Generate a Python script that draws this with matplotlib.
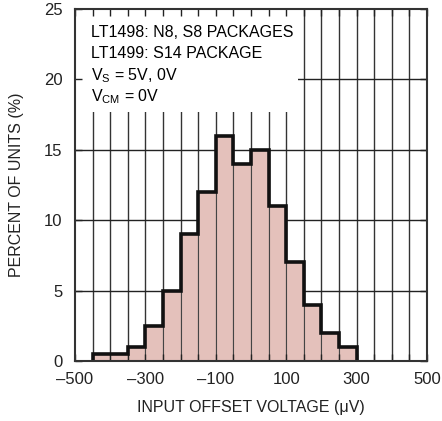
import matplotlib
matplotlib.use("Agg")
import matplotlib.pyplot as plt
import numpy as np
from matplotlib.patches import Rectangle

plt.rcParams['font.family'] = ['Liberation Sans', 'DejaVu Sans']

bin_edges = [-450, -400, -350, -300, -250, -200, -150, -100, -50, 0, 50, 100, 150, 200, 250, 300]
percent = [0.5, 0.5, 1, 2.5, 5, 9, 12, 16, 14, 15, 11, 7, 4, 2, 1]
x_ticks = [-500, -300, -100, 100, 300, 500]
x_tick_labels = ['\u2013500', '\u2013300', '\u2013100', '100', '300', '500']
y_ticks = [0, 5, 10, 15, 20, 25]

W, H = 442, 421
fig = plt.figure(figsize=(W / 100, H / 100), dpi=100)
ax = fig.add_axes([75 / W, 1 - 361 / H, 352 / W, 352 / H])
ax.set_xlim(-500, 500)
ax.set_ylim(0, 25)

# grid lines
for xv in np.arange(-450, 500, 50):
    ax.axvline(xv, color='#333333', lw=1.0, zorder=0.5)
for yv in [5, 10, 15, 20]:
    ax.axhline(yv, color='#222222', lw=1.0, zorder=0.5)

# histogram
edges = np.array(bin_edges)
ax.bar(edges[:-1], percent, width=np.diff(edges), align='edge',
       color='#e4c1bb', edgecolor='#444444', linewidth=0.8, zorder=1)
ax.stairs(percent, edges, color='#111111', linewidth=2.6, zorder=3)

# white label box
ax.add_patch(Rectangle((-500, 17.65), 633, 7.35, facecolor='white',
                       edgecolor='none', zorder=1.5))

fs = 11.5
tx = -455
ax.text(tx, 23.3, 'LT1498: N8, S8 PACKAGES', fontsize=fs, va='center', zorder=4)
ax.text(tx, 21.85, 'LT1499: S14 PACKAGE', fontsize=fs, va='center', zorder=4)
ax.text(tx, 20.25, r'V$_\mathregular{S}$ = 5V, 0V', fontsize=fs, va='center', zorder=4)
ax.text(tx, 18.75, r'V$_\mathregular{CM}$ = 0V', fontsize=fs, va='center', zorder=4)

ax.set_xticks(x_ticks)
ax.set_xticklabels(x_tick_labels)
ax.set_xticks(np.arange(-450, 500, 50), minor=True)
ax.set_yticks(y_ticks)
ax.tick_params(axis='both', which='both', direction='in', length=5, width=1,
               colors='#222222', labelcolor='#222222', labelsize=12,
               top=True, right=True)
ax.tick_params(axis='x', which='minor', length=5)
ax.tick_params(axis='x', pad=8)
ax.tick_params(axis='y', pad=9)
for s in ax.spines.values():
    s.set_linewidth(1.5)
    s.set_color('#333333')
    s.set_zorder(5)

ax.set_xlabel('INPUT OFFSET VOLTAGE (\u03bcV)', fontsize=fs, color='#222222', labelpad=9)
ax.set_ylabel('PERCENT OF UNITS (%)', fontsize=fs, color='#222222', labelpad=14)

fig.savefig('out.png', dpi=100)
